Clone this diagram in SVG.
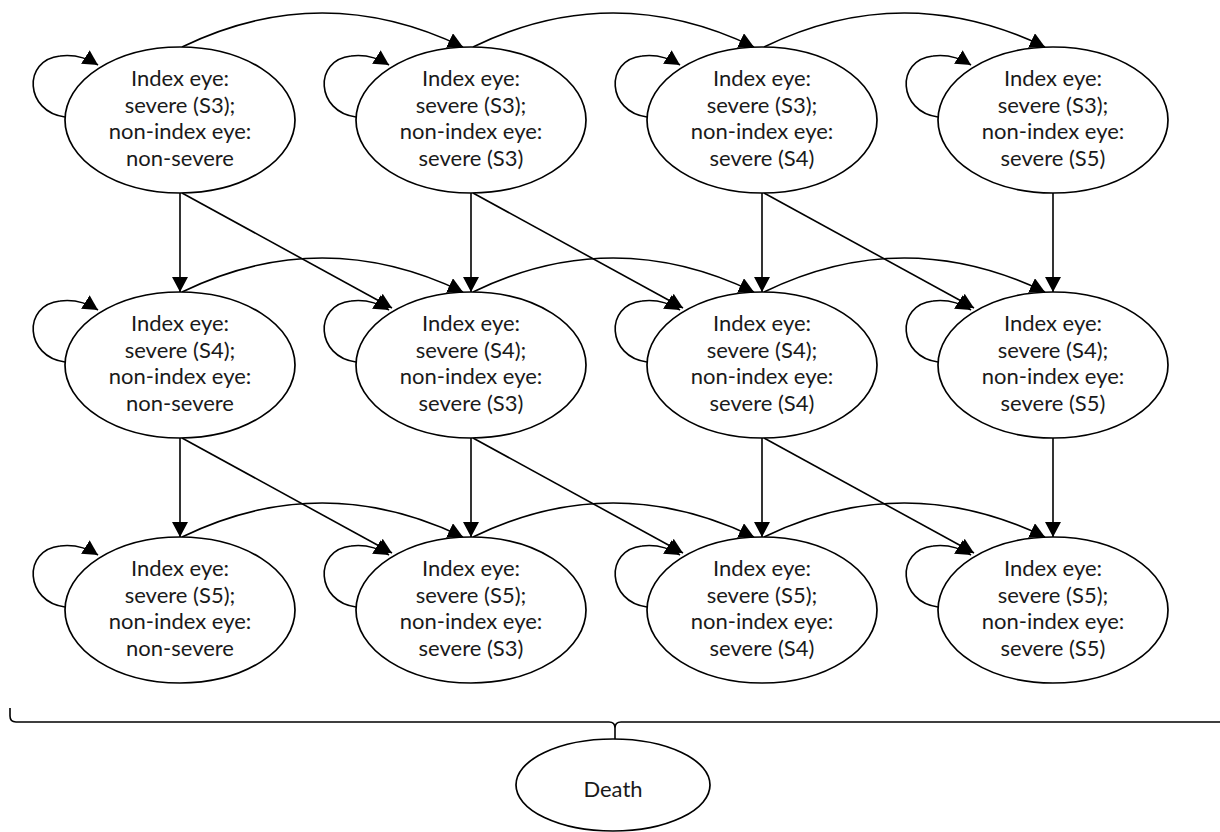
<svg xmlns="http://www.w3.org/2000/svg" width="1220" height="832" viewBox="0 0 1220 832">
<defs>
<marker id="ah" markerUnits="userSpaceOnUse" markerWidth="16" markerHeight="17" refX="15" refY="8" orient="auto">
<path d="M0,0 L15,8 L0,16 Z" fill="#000"/>
</marker>
<style>
.n ellipse{fill:#fff;stroke:#000;stroke-width:1.7}
.n text{font-family:Lato,"Open Sans",sans-serif;font-size:22px;fill:#1a1a1a;text-anchor:middle}
#edges path{fill:none;stroke:#000;stroke-width:1.6}
#edges .a{marker-end:url(#ah)}
</style>
</defs>
<rect width="1220" height="832" fill="#fff"/>
<g id="edges">
<path class="a" d="M182,47 Q322,-21 463,47"/>
<path class="a" d="M473,47 Q613,-21 754,47"/>
<path class="a" d="M764,47 Q904,-21 1045,47"/>
<path class="a" d="M182,292 Q322,224 463,292"/>
<path class="a" d="M473,292 Q613,224 754,292"/>
<path class="a" d="M764,292 Q904,224 1045,292"/>
<path class="a" d="M182,537 Q322,469 463,537"/>
<path class="a" d="M473,537 Q613,469 754,537"/>
<path class="a" d="M764,537 Q904,469 1045,537"/>
<path class="a" d="M180,193 L180,292"/>
<path class="a" d="M471,193 L471,292"/>
<path class="a" d="M762,193 L762,292"/>
<path class="a" d="M1053,193 L1053,292"/>
<path class="a" d="M180,438 L180,537"/>
<path class="a" d="M471,438 L471,537"/>
<path class="a" d="M762,438 L762,537"/>
<path class="a" d="M1053,438 L1053,537"/>
<path class="a" d="M182,193 L392,308"/>
<path class="a" d="M473,193 L683,308"/>
<path class="a" d="M764,193 L974,308"/>
<path class="a" d="M182,438 L392,553"/>
<path class="a" d="M473,438 L683,553"/>
<path class="a" d="M764,438 L974,553"/>
<path class="a" transform="translate(180,120)" d="M-115,-3 C-155,-8 -158,-60 -120,-64 C-105,-66 -93,-62 -82,-55"/>
<path class="a" transform="translate(471,120)" d="M-115,-3 C-155,-8 -158,-60 -120,-64 C-105,-66 -93,-62 -82,-55"/>
<path class="a" transform="translate(762,120)" d="M-115,-3 C-155,-8 -158,-60 -120,-64 C-105,-66 -93,-62 -82,-55"/>
<path class="a" transform="translate(1053,120)" d="M-115,-3 C-155,-8 -158,-60 -120,-64 C-105,-66 -93,-62 -82,-55"/>
<path class="a" transform="translate(180,365)" d="M-115,-3 C-155,-8 -158,-60 -120,-64 C-105,-66 -93,-62 -82,-55"/>
<path class="a" transform="translate(471,365)" d="M-115,-3 C-155,-8 -158,-60 -120,-64 C-105,-66 -93,-62 -82,-55"/>
<path class="a" transform="translate(762,365)" d="M-115,-3 C-155,-8 -158,-60 -120,-64 C-105,-66 -93,-62 -82,-55"/>
<path class="a" transform="translate(1053,365)" d="M-115,-3 C-155,-8 -158,-60 -120,-64 C-105,-66 -93,-62 -82,-55"/>
<path class="a" transform="translate(180,610)" d="M-115,-3 C-155,-8 -158,-60 -120,-64 C-105,-66 -93,-62 -82,-55"/>
<path class="a" transform="translate(471,610)" d="M-115,-3 C-155,-8 -158,-60 -120,-64 C-105,-66 -93,-62 -82,-55"/>
<path class="a" transform="translate(762,610)" d="M-115,-3 C-155,-8 -158,-60 -120,-64 C-105,-66 -93,-62 -82,-55"/>
<path class="a" transform="translate(1053,610)" d="M-115,-3 C-155,-8 -158,-60 -120,-64 C-105,-66 -93,-62 -82,-55"/>
<path d="M10,708 L10,716 Q10,722 16,722 L609,722 Q615,722 615,728 L615,739 M615,728 Q615,722 621,722 L1222,722"/>
</g>
<g id="r1c1" class="n"><ellipse cx="180" cy="120" rx="115" ry="73"/><text x="180" y="86">Index eye:</text><text x="180" y="112.7">severe (S3);</text><text x="180" y="139.3">non-index eye:</text><text x="180" y="166">non-severe</text></g>
<g id="r1c2" class="n"><ellipse cx="471" cy="120" rx="115" ry="73"/><text x="471" y="86">Index eye:</text><text x="471" y="112.7">severe (S3);</text><text x="471" y="139.3">non-index eye:</text><text x="471" y="166">severe (S3)</text></g>
<g id="r1c3" class="n"><ellipse cx="762" cy="120" rx="115" ry="73"/><text x="762" y="86">Index eye:</text><text x="762" y="112.7">severe (S3);</text><text x="762" y="139.3">non-index eye:</text><text x="762" y="166">severe (S4)</text></g>
<g id="r1c4" class="n"><ellipse cx="1053" cy="120" rx="115" ry="73"/><text x="1053" y="86">Index eye:</text><text x="1053" y="112.7">severe (S3);</text><text x="1053" y="139.3">non-index eye:</text><text x="1053" y="166">severe (S5)</text></g>
<g id="r2c1" class="n"><ellipse cx="180" cy="365" rx="115" ry="73"/><text x="180" y="331">Index eye:</text><text x="180" y="357.7">severe (S4);</text><text x="180" y="384.3">non-index eye:</text><text x="180" y="411">non-severe</text></g>
<g id="r2c2" class="n"><ellipse cx="471" cy="365" rx="115" ry="73"/><text x="471" y="331">Index eye:</text><text x="471" y="357.7">severe (S4);</text><text x="471" y="384.3">non-index eye:</text><text x="471" y="411">severe (S3)</text></g>
<g id="r2c3" class="n"><ellipse cx="762" cy="365" rx="115" ry="73"/><text x="762" y="331">Index eye:</text><text x="762" y="357.7">severe (S4);</text><text x="762" y="384.3">non-index eye:</text><text x="762" y="411">severe (S4)</text></g>
<g id="r2c4" class="n"><ellipse cx="1053" cy="365" rx="115" ry="73"/><text x="1053" y="331">Index eye:</text><text x="1053" y="357.7">severe (S4);</text><text x="1053" y="384.3">non-index eye:</text><text x="1053" y="411">severe (S5)</text></g>
<g id="r3c1" class="n"><ellipse cx="180" cy="610" rx="115" ry="73"/><text x="180" y="576">Index eye:</text><text x="180" y="602.7">severe (S5);</text><text x="180" y="629.3">non-index eye:</text><text x="180" y="656">non-severe</text></g>
<g id="r3c2" class="n"><ellipse cx="471" cy="610" rx="115" ry="73"/><text x="471" y="576">Index eye:</text><text x="471" y="602.7">severe (S5);</text><text x="471" y="629.3">non-index eye:</text><text x="471" y="656">severe (S3)</text></g>
<g id="r3c3" class="n"><ellipse cx="762" cy="610" rx="115" ry="73"/><text x="762" y="576">Index eye:</text><text x="762" y="602.7">severe (S5);</text><text x="762" y="629.3">non-index eye:</text><text x="762" y="656">severe (S4)</text></g>
<g id="r3c4" class="n"><ellipse cx="1053" cy="610" rx="115" ry="73"/><text x="1053" y="576">Index eye:</text><text x="1053" y="602.7">severe (S5);</text><text x="1053" y="629.3">non-index eye:</text><text x="1053" y="656">severe (S5)</text></g>
<g id="death" class="n"><ellipse cx="613" cy="785" rx="97" ry="46"/><text x="613" y="797">Death</text></g>
</svg>
